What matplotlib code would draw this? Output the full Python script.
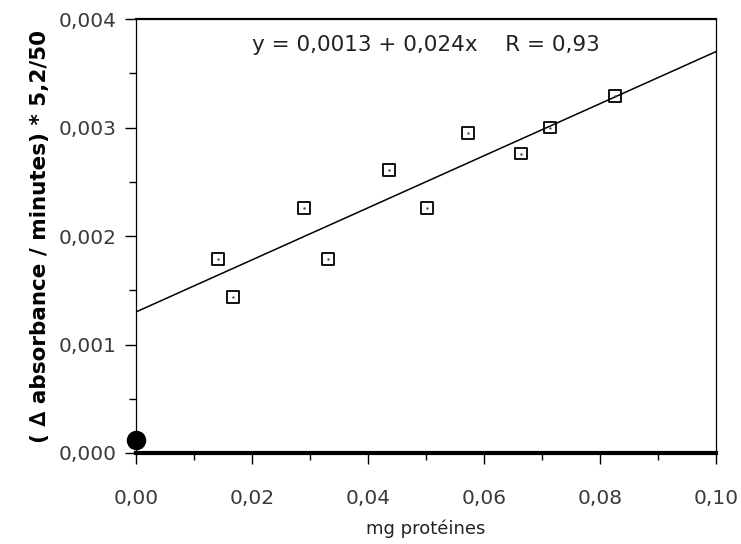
import numpy as np
import matplotlib.pyplot as plt
from matplotlib.ticker import MultipleLocator, FuncFormatter

# Données
mg_proteines = [0.0141, 0.0167, 0.0290, 0.0331, 0.0436, 0.0502, 0.0572, 0.0664, 0.0714, 0.0826]
activite = [0.00179, 0.00144, 0.00226, 0.00179, 0.00261, 0.00226, 0.00295, 0.00276, 0.00300, 0.00329]

# Point témoin (noir)
temoin_x = [0.0]
temoin_y = [0.00012]

# Droite de régression
intercept = 0.0013
slope = 0.024
R = 0.93

fig = plt.figure(figsize=(7.41, 5.44), dpi=100)
ax = fig.add_axes([0.1835, 0.1673, 0.9663 - 0.1835, 0.965 - 0.1673])

ax.scatter(mg_proteines, activite, marker='s', s=70, facecolors='none',
           edgecolors='black', linewidths=1.3, zorder=3)
ax.scatter(mg_proteines, activite, marker='.', s=2, color='#444444', zorder=3)
ax.scatter(temoin_x, temoin_y, marker='o', s=170, color='black', zorder=4, clip_on=False)

xs = np.array([0.0, 0.1])
ax.plot(xs, intercept + slope * xs, color='black', lw=1.1)

ax.set_xlim(0, 0.1)
ax.set_ylim(0, 0.004)

ax.xaxis.set_major_locator(MultipleLocator(0.02))
ax.xaxis.set_minor_locator(MultipleLocator(0.01))
ax.yaxis.set_major_locator(MultipleLocator(0.001))
ax.yaxis.set_minor_locator(MultipleLocator(0.0005))

ax.xaxis.set_major_formatter(FuncFormatter(lambda v, p: f"{v:.2f}".replace('.', ',')))
ax.yaxis.set_major_formatter(FuncFormatter(lambda v, p: f"{v:.3f}".replace('.', ',')))

ax.tick_params(axis='both', which='major', direction='out', length=8, width=1,
               labelsize=14.5, colors='black')
ax.tick_params(axis='both', which='minor', direction='out', length=5, width=1)
ax.tick_params(axis='x', pad=18)
ax.tick_params(axis='y', pad=6)
for lab in ax.get_xticklabels() + ax.get_yticklabels():
    lab.set_color('#3a3a3a')

ax.spines['bottom'].set_linewidth(3)
ax.spines['top'].set_linewidth(1.6)
ax.spines['left'].set_linewidth(0.9)
ax.spines['left'].set_linestyle((0, (2, 1)))
ax.spines['right'].set_linewidth(0.9)
ax.spines['right'].set_linestyle((0, (2, 1)))

ax.text(0.5, 0.94, "y = 0,0013 + 0,024x    R = 0,93", transform=ax.transAxes,
        ha='center', va='center', fontsize=15.5, color='#222222')

ax.set_xlabel("mg protéines", fontsize=13, labelpad=8, color='#222222')
ax.set_ylabel("( \u2206 absorbance / minutes) * 5,2/50", fontsize=15.5,
              fontweight='bold', labelpad=6)

fig.savefig("out.png", dpi=100)
